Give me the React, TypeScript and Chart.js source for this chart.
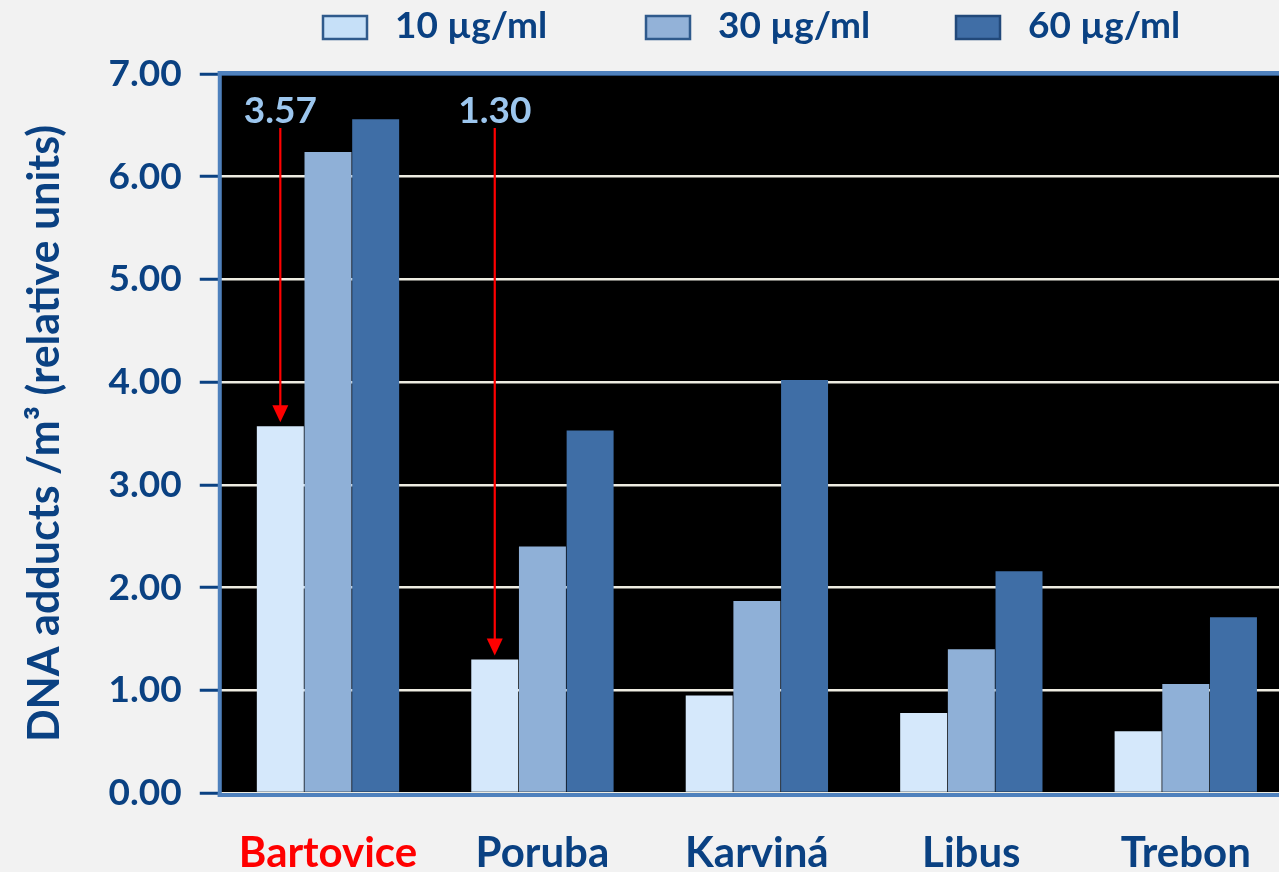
import React, { useEffect, useRef } from "react";
import { Chart, registerables } from "chart.js";

Chart.register(...registerables);

const categories = ["Bartovice", "Poruba", "Karviná", "Libus", "Trebon"];
const categoryColors = ["#ff0000", "#0a4182", "#0a4182", "#0a4182", "#0a4182"];
const seriesLabels = ["10 µg/ml", "30 µg/ml", "60 µg/ml"];
const series10 = [3.57, 1.3, 0.95, 0.78, 0.6];
const series30 = [6.24, 2.4, 1.87, 1.4, 1.06];
const series60 = [6.56, 3.53, 4.02, 2.16, 1.71];
const yMin = 0;
const yMax = 7;
const yStep = 1;
// annotated bars: [datasetIndex, categoryIndex]
const annotatedBars = [
  [0, 0],
  [0, 1],
];

const NAVY = "#0a4182";
const FONT = "Lato, 'Open Sans', sans-serif";
const barFill = ["#d5e8fb", "#8fb0d7", "#3f6ea6"];
const legendFill = ["#c6e0f8", "#93b2d8", "#406ea6"];
const legendBorder = ["#2f5a8c", "#2f5a8c", "#22497a"];
const legendX = [322, 645, 955];

export default function App() {
  const ref = useRef<HTMLCanvasElement | null>(null);

  useEffect(() => {
    document.body.style.margin = "0";
    document.body.style.overflow = "hidden";
    const canvas = ref.current;
    if (!canvas) return;

    const bgPlugin = {
      id: "bg",
      beforeDraw(chart: any) {
        const { ctx, chartArea } = chart;
        ctx.save();
        ctx.fillStyle = "#f2f2f2";
        ctx.fillRect(0, 0, chart.width, chart.height);
        ctx.fillStyle = "#000000";
        ctx.fillRect(chartArea.left, chartArea.top, chartArea.right - chartArea.left, chartArea.bottom - chartArea.top);
        ctx.restore();
      },
    };

    const framePlugin = {
      id: "frame",
      beforeDatasetsDraw(chart: any) {
        const { ctx, chartArea } = chart;
        const { left, top, right, bottom } = chartArea;
        ctx.save();
        ctx.fillStyle = "#4f81bd";
        ctx.fillRect(left - 3, top - 3, right - left + 6, 4);
        ctx.fillRect(left - 3, bottom, right - left + 6, 4);
        ctx.fillRect(left - 3, top - 3, 4, bottom - top + 7);
        ctx.fillStyle = "#2a4f7c";
        ctx.fillRect(left + 1, top + 1, right - left, 1);
        ctx.restore();
      },
    };

    const overlayPlugin = {
      id: "overlay",
      afterDraw(chart: any) {
        const { ctx, chartArea } = chart;
        ctx.save();
        // legend
        chart.data.datasets.forEach((ds: any, i: number) => {
          const x = legendX[i];
          ctx.fillStyle = legendFill[i];
          ctx.fillRect(x, 15, 46, 25);
          ctx.strokeStyle = legendBorder[i];
          ctx.lineWidth = 2.5;
          ctx.strokeRect(x + 1, 16, 44, 23);
          ctx.fillStyle = NAVY;
          ctx.font = `bold 37px ${FONT}`;
          ctx.textAlign = "left";
          ctx.textBaseline = "middle";
          ctx.fillText(ds.label, x + 73, 26);
        });
        // annotations
        annotatedBars.forEach(([d, c]) => {
          const el = chart.getDatasetMeta(d).data[c];
          const value = chart.data.datasets[d].data[c];
          const x = el.x;
          const tipY = el.y - 4;
          const startY = chartArea.top + 54;
          ctx.fillStyle = "#9cc6ee";
          ctx.font = `bold 37px ${FONT}`;
          ctx.textAlign = "center";
          ctx.textBaseline = "middle";
          ctx.fillText(Number(value).toFixed(2), x, chartArea.top + 37);
          ctx.strokeStyle = "#ff0000";
          ctx.lineWidth = 2.2;
          ctx.beginPath();
          ctx.moveTo(x, startY);
          ctx.lineTo(x, tipY - 14);
          ctx.stroke();
          ctx.fillStyle = "#ff0000";
          ctx.beginPath();
          ctx.moveTo(x - 8, tipY - 17);
          ctx.lineTo(x + 8, tipY - 17);
          ctx.lineTo(x, tipY);
          ctx.closePath();
          ctx.fill();
        });
        ctx.restore();
      },
    };

    const chart = new Chart(canvas, {
      type: "bar",
      data: {
        labels: categories,
        datasets: [
          { label: seriesLabels[0], data: series10, backgroundColor: barFill[0] },
          { label: seriesLabels[1], data: series30, backgroundColor: barFill[1] },
          { label: seriesLabels[2], data: series60, backgroundColor: barFill[2] },
        ],
      },
      options: {
        responsive: false,
        animation: false,
        devicePixelRatio: 1,
        layout: { padding: { top: 74, left: 11, right: 0, bottom: 0 } },
        datasets: {
          bar: { categoryPercentage: 0.667, barPercentage: 0.985, borderWidth: 0 },
        },
        plugins: {
          legend: { display: false },
          tooltip: { enabled: false },
        },
        scales: {
          x: {
            offset: true,
            grid: { display: false, drawTicks: false },
            border: { display: false },
            afterFit: (s: any) => {
              s.height = 79;
            },
            ticks: {
              padding: 35,
              font: { family: FONT, size: 42, weight: "bold" },
              color: (c: any) => categoryColors[c.index] || NAVY,
              maxRotation: 0,
              autoSkip: false,
            },
          },
          y: {
            min: yMin,
            max: yMax,
            border: { display: false },
            grid: {
              color: "#eeece1",
              lineWidth: 2.5,
              tickColor: NAVY,
              tickWidth: 3,
              tickLength: 21,
            },
            ticks: {
              stepSize: yStep,
              padding: 18,
              color: NAVY,
              font: { family: FONT, size: 37, weight: "bold" },
              callback: (v: any) => Number(v).toFixed(2),
            },
            title: {
              display: true,
              text: "DNA adducts /m³ (relative units)",
              color: NAVY,
              font: { family: FONT, size: 43, weight: "bold" },
              padding: { top: 8, bottom: 20 },
            },
          },
        },
      },
      plugins: [bgPlugin, framePlugin, overlayPlugin],
    });

    return () => chart.destroy();
  }, []);

  return (
    <div style={{ position: "absolute", left: 0, top: 0, width: 1279, height: 872, overflow: "hidden", background: "#f2f2f2" }}>
      <canvas ref={ref} width={1293} height={872} style={{ display: "block" }} />
    </div>
  );
}
